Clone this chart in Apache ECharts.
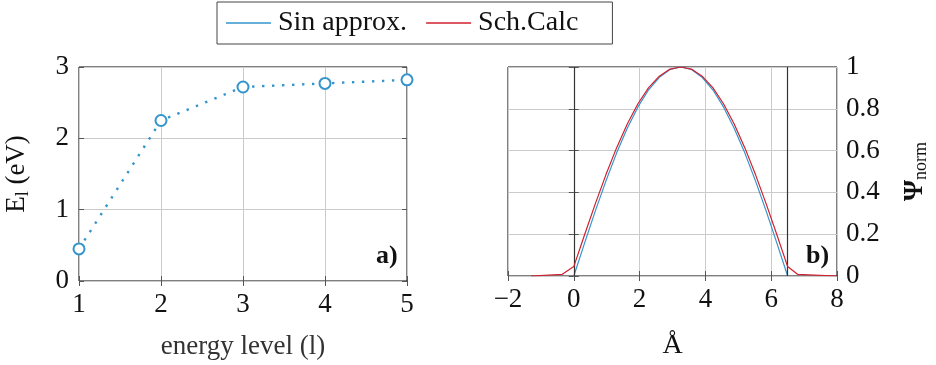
<!DOCTYPE html>
<html>
<head>
<meta charset="utf-8">
<script src="https://cdn.jsdelivr.net/npm/echarts@6/dist/echarts.min.js"></script>
<style>
  html, body { margin: 0; padding: 0; background: #fff; }
  #chart { width: 936px; height: 365px; }
</style>
</head>
<body>
<div id="chart"></div>
<script>
// Panel a): energy of each level
const levels = [1, 2, 3, 4, 5];
const energies = [0.45, 2.25, 2.72, 2.77, 2.82];

// Panel b): normalised wavefunction across the well (positions in Å)
const sinX = [0, 0.325, 0.65, 0.975, 1.3, 1.625, 1.95, 2.275, 2.6, 2.925, 3.25,
              3.575, 3.9, 4.225, 4.55, 4.875, 5.2, 5.525, 5.85, 6.175, 6.5];
const sinPsi = [0, 0.156, 0.309, 0.454, 0.588, 0.707, 0.809, 0.891, 0.951, 0.988, 1,
                0.988, 0.951, 0.891, 0.809, 0.707, 0.588, 0.454, 0.309, 0.156, 0];
const schX = [-1.3, -0.35, 0, 0.325, 0.65, 0.975, 1.3, 1.625, 1.95, 2.275, 2.6, 2.925, 3.25,
              3.575, 3.9, 4.225, 4.55, 4.875, 5.2, 5.525, 5.85, 6.175, 6.5, 6.8, 8];
const schPsi = [0, 0.008, 0.045, 0.196, 0.344, 0.484, 0.613, 0.727, 0.824, 0.901, 0.956, 0.99, 1,
                0.99, 0.956, 0.901, 0.824, 0.727, 0.613, 0.484, 0.344, 0.196, 0.045, 0.008, 0];
const wellEdges = [0, 6.5];

const blue = '#3594cc';
const red = '#d0202e';
const font = "'Liberation Serif', 'DejaVu Serif', serif";
const gridColor = '#cbcbcb';
const tickColor = '#555';

const zip = (xs, ys) => xs.map((x, i) => [x, ys[i]]);
const minus = v => String(v).replace('-', '\u2212');

const labelStyle = { fontFamily: font, fontSize: 27, color: '#111' };

function mirrorAxis(gridIndex, pos, min, max, interval) {
  return {
    gridIndex, position: pos, type: 'value', min, max, interval,
    axisLine: { show: false },
    axisTick: { show: true, inside: true, length: 5, lineStyle: { color: tickColor } },
    axisLabel: { show: false },
    splitLine: { show: false }
  };
}

const chart = echarts.init(document.getElementById('chart'));
chart.setOption({
  animation: false,
  backgroundColor: '#fff',
  legend: {
    top: 2, left: 217,
    data: ['Sin approx.', 'Sch.Calc'],
    icon: 'rect',
    itemWidth: 45, itemHeight: 1.4, itemGap: 19,
    borderColor: '#444', borderWidth: 1, borderRadius: 0,
    padding: [7, 34, 7, 9],
    textStyle: { fontFamily: font, fontSize: 28, color: '#111', padding: [0, 0, 0, 2] }
  },
  grid: [
    { left: 79, top: 67, width: 328, height: 214, show: true, borderColor: '#000', borderWidth: 1, backgroundColor: 'transparent' },
    { left: 508, top: 67, width: 329, height: 214, show: true, borderColor: '#000', borderWidth: 1, backgroundColor: 'transparent' }
  ],
  xAxis: [
    {
      gridIndex: 0, type: 'value', min: 1, max: 5, interval: 1,
      name: 'energy level (l)', nameLocation: 'middle', nameGap: 52,
      nameTextStyle: { fontFamily: font, fontSize: 27, color: '#333' },
      axisLine: { show: false },
      axisTick: { show: true, inside: true, length: 5, lineStyle: { color: tickColor } },
      axisLabel: Object.assign({ margin: 10 }, labelStyle),
      splitLine: { show: true, lineStyle: { color: gridColor, width: 1 } }
    },
    mirrorAxis(0, 'top', 1, 5, 1),
    {
      gridIndex: 1, type: 'value', min: -2, max: 8, interval: 2,
      name: '\u00C5', nameLocation: 'middle', nameGap: 56,
      nameTextStyle: { fontFamily: font, fontSize: 28, color: '#111' },
      axisLine: { show: false },
      axisTick: { show: true, inside: true, length: 5, lineStyle: { color: tickColor } },
      axisLabel: Object.assign({ margin: 10, formatter: minus }, labelStyle),
      splitLine: { show: true, lineStyle: { color: gridColor, width: 1 } }
    },
    mirrorAxis(1, 'top', -2, 8, 2)
  ],
  yAxis: [
    {
      gridIndex: 0, type: 'value', min: 0, max: 3, interval: 1, position: 'left',
      name: '{m|E}{s|l}{m| (eV)}', nameLocation: 'middle', nameGap: 47, nameRotate: 90,
      nameTextStyle: {
        rich: {
          m: { fontFamily: font, fontSize: 27, color: '#111' },
          s: { fontFamily: font, fontSize: 18, color: '#111', padding: [12, 0, 0, 0] }
        }
      },
      axisLine: { show: false },
      axisTick: { show: true, inside: true, length: 5, lineStyle: { color: tickColor } },
      axisLabel: Object.assign({ margin: 10 }, labelStyle),
      splitLine: { show: true, lineStyle: { color: gridColor, width: 1 } }
    },
    mirrorAxis(0, 'right', 0, 3, 1),
    {
      gridIndex: 1, type: 'value', min: 0, max: 1, interval: 0.2, position: 'right',
      name: '{p|\u03A8}{s|norm}', nameLocation: 'middle', nameGap: 63, nameRotate: 90,
      nameTextStyle: {
        rich: {
          p: { fontFamily: font, fontSize: 27, fontWeight: 'bold', color: '#111' },
          s: { fontFamily: font, fontSize: 18, color: '#111', padding: [12, 0, 0, 0] }
        }
      },
      axisLine: { show: false },
      axisTick: { show: true, inside: true, length: 5, lineStyle: { color: tickColor } },
      axisLabel: Object.assign({ margin: 9, align: 'left' }, labelStyle),
      splitLine: { show: true, lineStyle: { color: gridColor, width: 1 } }
    },
    mirrorAxis(1, 'left', 0, 1, 0.2)
  ],
  series: [
    {
      type: 'line', xAxisIndex: 0, yAxisIndex: 0,
      data: zip(levels, energies),
      symbol: 'emptyCircle', symbolSize: 11,
      itemStyle: { color: blue, borderWidth: 2 },
      lineStyle: { color: blue, width: 2.4, type: [2.4, 7.6] },
      z: 5
    },
    {
      name: 'Sin approx.', type: 'line', xAxisIndex: 2, yAxisIndex: 2,
      data: zip(sinX, sinPsi), showSymbol: false, symbol: 'none',
      itemStyle: { color: blue }, lineStyle: { color: blue, width: 1.2 },
      z: 4
    },
    {
      name: 'Sch.Calc', type: 'line', xAxisIndex: 2, yAxisIndex: 2,
      data: zip(schX, schPsi), showSymbol: false, symbol: 'none',
      itemStyle: { color: red }, lineStyle: { color: red, width: 1.2 },
      markLine: {
        silent: true, symbol: 'none', label: { show: false },
        lineStyle: { color: '#333', width: 1.2, type: 'solid' },
        data: wellEdges.map(x => ({ xAxis: x }))
      },
      z: 5
    }
  ],
  graphic: [
    { type: 'text', left: 376, top: 243, style: { text: 'a)', fontFamily: font, fontSize: 26, fontWeight: 'bold', fill: '#111' } },
    { type: 'text', left: 806, top: 243, style: { text: 'b)', fontFamily: font, fontSize: 26, fontWeight: 'bold', fill: '#111' } }
  ]
});
</script>
</body>
</html>
